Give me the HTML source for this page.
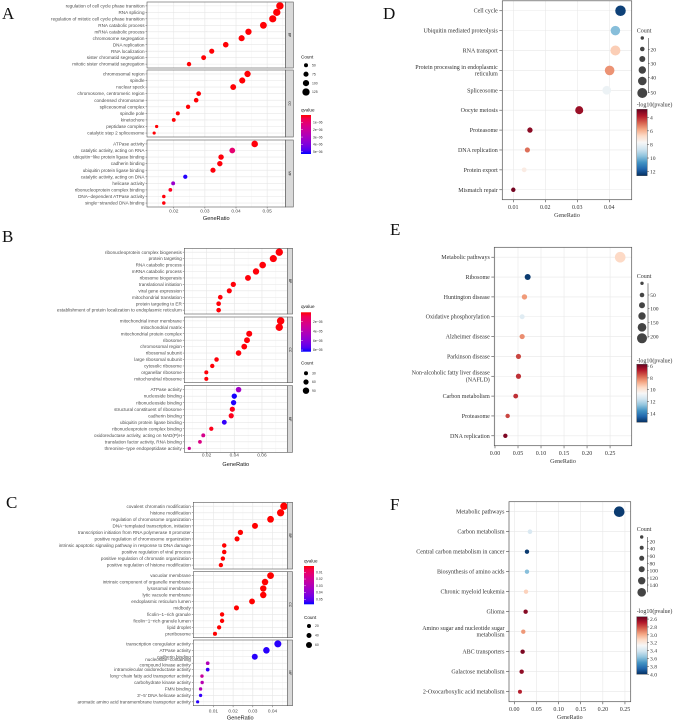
<!DOCTYPE html>
<html><head><meta charset="utf-8"><title>Enrichment dot plots</title>
<style>
html,body{margin:0;padding:0;background:#fff;}
svg{display:block;}
</style></head>
<body>
<svg id="chart" width="676" height="720" viewBox="0 0 676 720" xmlns="http://www.w3.org/2000/svg"></svg>
<script>
// ===== Panel A data =====
const aBpLabels = ["regulation of cell cycle phase transition","RNA splicing","regulation of mitotic cell cycle phase transition","RNA catabolic process","mRNA catabolic process","chromosome segregation","DNA replication","RNA localization","sister chromatid segregation","mitotic sister chromatid segregation"];
const aBpRatio = [0.0541,0.0531,0.0518,0.0488,0.044,0.0418,0.0367,0.0322,0.0296,0.0249];
const aBpCount = [127,125,122,115,103,98,86,76,70,59];
const aBpQ = [1e-9,1e-9,1e-9,1e-9,1e-9,1e-9,1e-9,1e-9,1e-9,1e-9];
const aCcLabels = ["chromosomal region","spindle","nuclear speck","chromosome, centromeric region","condensed chromosome","spliceosomal complex","spindle pole","kinetochore","peptidase complex","catalytic step 2 spliceosome"];
const aCcRatio = [0.0437,0.042,0.0391,0.028,0.0272,0.0246,0.0213,0.02,0.0145,0.0137];
const aCcCount = [103,99,92,66,64,58,50,47,34,32];
const aCcQ = [1e-9,1e-9,1e-9,1e-9,1e-9,1e-9,1e-9,1e-9,1e-9,1e-9];
const aMfLabels = ["ATPase activity","catalytic activity, acting on RNA","ubiquitin\u2212like protein ligase binding","cadherin binding","ubiquitin protein ligase binding","catalytic activity, acting on DNA","helicase activity","ribonucleoprotein complex binding","DNA\u2212dependent ATPase activity","single\u2212stranded DNA binding"];
const aMfRatio = [0.046,0.0388,0.0352,0.0348,0.0326,0.0237,0.0198,0.0189,0.0168,0.0168];
const aMfCount = [108,91,83,82,77,56,47,44,39,39];
const aMfQ = [1e-8,1.0e-6,1e-8,1e-8,1e-8,5.2e-6,3.4e-6,1e-7,1e-8,1e-8];
const aTicks = [0.02,0.03,0.04,0.05];
const aTickLabels = ["0.02","0.03","0.04","0.05"];
const aCountLegend = [50,75,100,125];
const aQLegend = [1e-6,2e-6,3e-6,4e-6,5e-6];
const aQLegendLabels = ["1e\u221206","2e\u221206","3e\u221206","4e\u221206","5e\u221206"];

// ===== Panel B data =====
const bBpLabels = ["ribonucleoprotein complex biogenesis","protein targeting","RNA catabolic process","mRNA catabolic process","ribosome biogenesis","translational initiation","viral gene expression","mitochondrial translation","protein targeting to ER","establishment of protein localization to endoplasmic reticulum"];
const bBpRatio = [0.0725,0.0682,0.0605,0.0557,0.0499,0.0393,0.0364,0.0299,0.0287,0.0287];
const bBpCount = [115,108,96,89,79,62,58,48,46,46];
const bBpQ = [1e-7,1e-7,1e-7,1e-7,1e-7,1e-7,1e-7,1e-7,1e-7,1e-7];
const bCcLabels = ["mitochondrial inner membrane","mitochondrial matrix","mitochondrial protein complex","ribosome","chromosomal region","ribosomal subunit","large ribosomal subunit","cytosolic ribosome","organellar ribosome","mitochondrial ribosome"];
const bCcRatio = [0.0735,0.0725,0.0508,0.0492,0.0472,0.0431,0.0272,0.0241,0.0198,0.0198];
const bCcCount = [117,115,81,78,75,69,43,38,31,31];
const bCcQ = [1e-7,1e-7,1e-7,1e-7,1e-7,1e-7,1e-7,1e-7,1e-7,1e-7];
const bMfLabels = ["ATPase activity","nucleoside binding","ribonucleoside binding","structural constituent of ribosome","cadherin binding","ubiquitin protein ligase binding","ribonucleoprotein complex binding","oxidoreductase activity, acting on NAD(P)H","translation factor activity, RNA binding","threonine\u2212type endopeptidase activity"];
const bMfRatio = [0.0431,0.04,0.0395,0.0386,0.0378,0.0328,0.0234,0.0176,0.0152,0.0075];
const bMfCount = [69,64,63,61,60,52,37,28,24,12];
const bMfQ = [5e-5,8.3e-5,8.2e-5,1e-6,1e-6,8.0e-5,1e-6,2.5e-5,2.2e-5,2.8e-5];
const bTicks = [0.02,0.04,0.06];
const bTickLabels = ["0.02","0.04","0.06"];
const bCountLegend = [30,60,90];
const bQLegend = [2e-5,4e-5,6e-5,8e-5];
const bQLegendLabels = ["2e\u221205","4e\u221205","6e\u221205","8e\u221205"];

// ===== Panel C data =====
const cBpLabels = ["covalent chromatin modification","histone modification","regulation of chromosome organization","DNA\u2212templated transcription, initiation","transcription initiation from RNA polymerase II promoter","positive regulation of chromosome organization","intrinsic apoptotic signaling pathway in response to DNA damage","positive regulation of viral process","positive regulation of chromatin organization","positive regulation of histone modification"];
const cBpRatio = [0.0458,0.0441,0.039,0.0311,0.0237,0.022,0.0155,0.0155,0.0148,0.0138];
const cBpCount = [88,85,75,60,46,42,30,30,28,26];
const cBpQ = [1e-5,1e-5,1e-5,1e-5,1e-5,1e-5,1e-5,1e-5,1e-5,1e-5];
const cCcLabels = ["vacuolar membrane","intrinsic component of organelle membrane","lysosomal membrane","lytic vacuole membrane","endoplasmic reticulum lumen","midbody","ficolin\u22121\u2212rich granule","ficolin\u22121\u2212rich granule lumen","lipid droplet","preribosome"];
const cCcRatio = [0.039,0.0362,0.0353,0.0353,0.0296,0.0217,0.0144,0.0144,0.0129,0.0108];
const cCcCount = [75,70,68,68,57,42,28,28,25,21];
const cCcQ = [1e-5,1e-5,1e-5,1e-5,1e-5,1e-5,1e-5,1e-5,1e-5,1e-5];
const cMfLabels = ["transcription coregulator activity","ATPase activity","cadherin binding","nucleoside\u2212containing\ncompound kinase activity","intramolecular oxidoreductase activity","long\u2212chain fatty acid transporter activity","carbohydrate kinase activity","FMN binding","3'\u22125' DNA helicase activity","aromatic amino acid transmembrane transporter activity"];
const cMfRatio = [0.0427,0.0369,0.031,0.0071,0.0071,0.0042,0.0043,0.0035,0.0035,0.002];
const cMfCount = [82,71,60,14,14,8,8,7,7,4];
const cMfQ = [0.056,0.056,0.056,0.03,0.055,0.022,0.028,0.03,0.055,0.056];
const cTicks = [0.01,0.02,0.03,0.04];
const cTickLabels = ["0.01","0.02","0.03","0.04"];
const cCountLegend = [20,40,60];
const cQLegend = [0.01,0.02,0.03,0.04,0.05];
const cQLegendLabels = ["0.01","0.02","0.03","0.04","0.05"];

// ===== Panel D data =====
const dLabels = ["Cell cycle","Ubiquitin mediated proteolysis","RNA transport","Protein processing in endoplasmic\nreticulum","Spliceosome","Oocyte meiosis","Proteasome","DNA replication","Protein export","Mismatch repair"];
const dRatio = [0.0435,0.0419,0.0419,0.0401,0.0392,0.0306,0.0152,0.0144,0.0134,0.01];
const dCount = [53,47,50,48,43,39,24,23,21,19];
const dLogP = [12.3,9.8,6.5,5.5,8.0,3.5,3.3,5.0,7.3,3.0];
const dTicks = [0.01,0.02,0.03,0.04];
const dTickLabels = ["0.01","0.02","0.03","0.04"];
const dColorTicks = [4,6,8,10,12];
const dSizeLegend = ["20","30","40","50"];

// ===== Panel E data =====
const eLabels = ["Metabolic pathways","Ribosome","Huntington disease","Oxidative phosphorylation","Alzheimer disease","Parkinson disease","Non-alcoholic fatty liver disease\n(NAFLD)","Carbon metabolism","Proteasome","DNA replication"];
const eRatio = [0.272,0.071,0.064,0.059,0.059,0.051,0.051,0.045,0.0275,0.0225];
const eCount = [217,89,72,61,67,67,67,56,44,44];
const eLogP = [9.6,15.3,8.5,11.2,8.3,7.3,7.0,7.0,7.3,6.0];
const eTicks = [0,0.05,0.1,0.15,0.2,0.25];
const eTickLabels = ["0.00","0.05","0.10","0.15","0.20","0.25"];
const eColorTicks = [6,8,10,12,14];
const eSizeLegend = ["50","100","150","200"];

// ===== Panel F data =====
const fLabels = ["Metabolic pathways","Carbon metabolism","Central carbon metabolism in cancer","Biosynthesis of amino acids","Chronic myeloid leukemia","Glioma","Amino sugar and nucleotide sugar\nmetabolism","ABC transporters","Galactose metabolism","2-Oxocarboxylic acid metabolism"];
const fRatio = [0.237,0.0354,0.0286,0.0286,0.0264,0.0256,0.0203,0.0188,0.0166,0.0128];
const fCount = [151,42,38,38,38,38,38,38,38,31];
const fLogP = [3.97,3.38,3.97,3.58,3.1,2.6,2.95,2.58,2.62,2.7];
const fTicks = [0,0.05,0.1,0.15,0.2,0.25];
const fTickLabels = ["0.00","0.05","0.10","0.15","0.20","0.25"];
const fColorTicks = [2.6,2.8,3.0,3.2,3.4,3.6,3.8,4.0];
const fColorTickLabels = ["2.6","2.8","3.0","3.2","3.4","3.6","3.8","4.0"];
const fSizeLegend = ["20","40","60","80","100","120","140"];

const NS = "http://www.w3.org/2000/svg";
const svg = document.getElementById('chart');
function mk(tag, attrs, parent) {
  const e = document.createElementNS(NS, tag);
  for (const k in attrs) e.setAttribute(k, attrs[k]);
  (parent || svg).appendChild(e);
  return e;
}
function txt(s, attrs, parent) {
  const e = mk('text', attrs, parent);
  e.textContent = s;
  return e;
}
const SANS = '"Liberation Sans", Arial, sans-serif';
const SERIF = '"Liberation Serif", "Times New Roman", serif';

function goColor(q, qmin, qmax) {
  let t = (q - qmin) / (qmax - qmin);
  t = Math.max(0, Math.min(1, t));
  const r = Math.round(255 * Math.sqrt(1 - t));
  const b = Math.round(255 * Math.sqrt(t));
  return 'rgb(' + r + ',0,' + b + ')';
}
const RDBU = ["#67001f","#b2182b","#d6604d","#f4a582","#fddbc7","#f7f7f7","#d1e5f0","#92c5de","#4393c3","#2166ac","#053061"];
function hex2rgb(h){return [parseInt(h.substr(1,2),16),parseInt(h.substr(3,2),16),parseInt(h.substr(5,2),16)];}
function rdbu(v, vmin, vmax) {
  let t = (v - vmin) / (vmax - vmin);
  t = Math.max(0, Math.min(1, t)) * (RDBU.length - 1);
  const i = Math.min(Math.floor(t), RDBU.length - 2), f = t - i;
  const a = hex2rgb(RDBU[i]), b = hex2rgb(RDBU[i + 1]);
  return 'rgb(' + a.map((x, j) => Math.round(x + (b[j] - x) * f)).join(',') + ')';
}

// panel letters
[["A",2,19],["B",2,242],["C",6,508],["D",383,19],["E",390,235],["F",390,510]].forEach(l => {
  const t = txt(l[0], {x:l[1], y:l[2], 'font-family':SERIF, 'font-size':17, fill:'#111'});
  
  
});

let gradId = 0;
function goPanel(p) {
  const g = mk('g', {});
  
  
  const sx = v => p.L + (v - p.xmin) / (p.xmax - p.xmin) * (p.R - p.L);
  p.facets.forEach(f => {
    const fg = mk('g', {}, g);
    
    
    const bg = mk('rect', {x:p.L, y:f.top, width:p.R - p.L, height:f.bot - f.top, fill:'#fff'}, fg);
    
    
    // minor vertical grid
    for (let i = 0; i < p.ticks.length + 1; i++) {
      const step = p.ticks[1] - p.ticks[0];
      const v = p.ticks[0] - step / 2 + i * step;
      if (v > p.xmin && v < p.xmax) {
        const gl = mk('line', {x1:sx(v), x2:sx(v), y1:f.top, y2:f.bot, stroke:'#f2f2f2', 'stroke-width':0.4}, fg);
        
        
      }
    }
    p.ticks.forEach(v => {
      const gl = mk('line', {x1:sx(v), x2:sx(v), y1:f.top, y2:f.bot, stroke:'#e6e6e6', 'stroke-width':0.6}, fg);
      
      
    });
    const n = f.labels.length;
    const step = (f.bot - f.top) / (n + 0.2);
    f.labels.forEach((lab, i) => {
      const y = f.top + (0.6 + i) * step;
      const hl = mk('line', {x1:p.L, x2:p.R, y1:y, y2:y, stroke:'#e6e6e6', 'stroke-width':0.6}, fg);
      
      
      const tk = mk('line', {x1:p.L - 1.5, x2:p.L, y1:y, y2:y, stroke:'#333', 'stroke-width':0.4}, fg);
      
      
      const parts = lab.split('\n');
      parts.forEach((s, j) => {
        const dy = parts.length > 1 ? (j === 0 ? -2.2 : 3.2) : 1.6;
        const t = txt(s, {x:p.L - 2.5, y:y + dy, 'text-anchor':'end', 'font-family':SANS, 'font-size':4.6, fill:'#4d4d4d'}, fg);
        
        
      });
    });
    f.labels.forEach((lab, i) => {
      const y = f.top + (0.6 + i) * step;
      const c = mk('circle', {cx:sx(f.ratio[i]), cy:y, r:p.r0 + p.k * f.count[i], fill:goColor(f.q[i], p.qmin, p.qmax)}, fg);
      
      
    });
    const bd = mk('rect', {x:p.L, y:f.top, width:p.R - p.L, height:f.bot - f.top, fill:'none', stroke:'#555', 'stroke-width':0.6}, fg);
    
    
    const st = mk('rect', {x:p.R, y:f.top, width:p.S - p.R, height:f.bot - f.top, fill:'#d9d9d9', stroke:'#555', 'stroke-width':0.6}, fg);
    
    
    const cx = (p.R + p.S) / 2, cy = (f.top + f.bot) / 2;
    const stt = txt(f.name, {x:cx, y:cy, 'text-anchor':'middle', 'dominant-baseline':'central', transform:'rotate(90 ' + cx + ' ' + cy + ')', 'font-family':SANS, 'font-size':3.2, fill:'#222'}, fg);
    
    
  });
  const lastBot = p.facets[p.facets.length - 1].bot;
  p.ticks.forEach((v, i) => {
    const tk = mk('line', {x1:sx(v), x2:sx(v), y1:lastBot, y2:lastBot + 1.5, stroke:'#333', 'stroke-width':0.4}, g);
    
    
    const t = txt(p.tickLabels[i], {x:sx(v), y:p.tickY, 'text-anchor':'middle', 'font-family':SANS, 'font-size':4.8, fill:'#4d4d4d'}, g);
    
    
  });
  const xt = txt('GeneRatio', {x:(p.L + p.R) / 2, y:p.titleY, 'text-anchor':'middle', 'font-family':SANS, 'font-size':5.6, fill:'#111'}, g);
  
  
  // count legend
  const cl = mk('g', {}, g);
  
  
  const ct = txt('Count', {x:p.legX, y:p.countTitleY, 'font-family':SANS, 'font-size':4.6, fill:'#111'}, cl);
  
  
  p.countLegend.forEach((cv, i) => {
    const y = p.countY0 + i * p.countStep;
    const c = mk('circle', {cx:p.legX + 5, cy:y, r:p.r0 + p.k * cv, fill:'#000'}, cl);
    
    
    const t = txt(String(cv), {x:p.legX + 11, y:y + 1.2, 'font-family':SANS, 'font-size':3.4, fill:'#333'}, cl);
    
    
  });
  // qvalue colorbar
  const ql = mk('g', {}, g);
  
  
  const qt = txt('qvalue', {x:p.legX, y:p.qTitleY, 'font-family':SANS, 'font-size':4.6, fill:'#111'}, ql);
  
  
  const id = 'gg' + (gradId++);
  const defs = mk('defs', {}, ql);
  const lg = mk('linearGradient', {id:id, x1:0, y1:0, x2:0, y2:1}, defs);
  for (let i = 0; i <= 10; i++) {
    mk('stop', {offset:(i * 10) + '%', 'stop-color':goColor(p.qmin + (p.qmax - p.qmin) * i / 10, p.qmin, p.qmax)}, lg);
  }
  const bar = mk('rect', {x:p.legX, y:p.barT, width:10, height:p.barB - p.barT, fill:'url(#' + id + ')'}, ql);
  
  
  p.qLegend.forEach((qv, i) => {
    const y = p.barT + (qv - p.qmin) / (p.qmax - p.qmin) * (p.barB - p.barT);
    const tk = mk('line', {x1:p.legX, x2:p.legX + 2, y1:y, y2:y, stroke:'#fff', 'stroke-width':0.4}, ql);
    
    
    const t = txt(p.qLegendLabels[i], {x:p.legX + 12, y:y + 1.2, 'font-family':SANS, 'font-size':3.4, fill:'#333'}, ql);
    
    
  });
}

goPanel({id:'a', L:147, R:285.5, S:293.3, xmin:0.0114, xmax:0.0559, ticks:aTicks, tickLabels:aTickLabels, tickY:212.3, titleY:220,
  r0:0.9, k:0.022, qmin:0, qmax:5.3e-6,
  facets:[{name:'BP', top:2, bot:68, labels:aBpLabels, ratio:aBpRatio, count:aBpCount, q:aBpQ},
          {name:'CC', top:70, bot:137, labels:aCcLabels, ratio:aCcRatio, count:aCcCount, q:aCcQ},
          {name:'MF', top:140, bot:207, labels:aMfLabels, ratio:aMfRatio, count:aMfCount, q:aMfQ}],
  legX:301, countTitleY:58.5, countY0:65.3, countStep:8.9, countLegend:aCountLegend,
  qTitleY:111.5, barT:115, barB:154, qLegend:aQLegend, qLegendLabels:aQLegendLabels});

goPanel({id:'b', L:184.3, R:287.3, S:292.5, xmin:0.0039, xmax:0.0783, ticks:bTicks, tickLabels:bTickLabels, tickY:456.6, titleY:466,
  r0:1.4, k:0.02, qmin:0, qmax:8.35e-5,
  facets:[{name:'BP', top:248.3, bot:314, labels:bBpLabels, ratio:bBpRatio, count:bBpCount, q:bBpQ},
          {name:'CC', top:317, bot:382.7, labels:bCcLabels, ratio:bCcRatio, count:bCcCount, q:bCcQ},
          {name:'MF', top:385.7, bot:452.3, labels:bMfLabels, ratio:bMfRatio, count:bMfCount, q:bMfQ}],
  legX:301, countTitleY:364.5, countY0:373.3, countStep:8.7, countLegend:bCountLegend,
  qTitleY:308, barT:312.3, barB:351.7, qLegend:bQLegend, qLegendLabels:bQLegendLabels});

goPanel({id:'c', L:193.3, R:287.3, S:292.5, xmin:-0.0002, xmax:0.0475, ticks:cTicks, tickLabels:cTickLabels, tickY:712.5, titleY:719.5,
  r0:1.5, k:0.025, qmin:0.0007, qmax:0.0574,
  facets:[{name:'BP', top:502.3, bot:569, labels:cBpLabels, ratio:cBpRatio, count:cBpCount, q:cBpQ},
          {name:'CC', top:571.7, bot:637.7, labels:cCcLabels, ratio:cCcRatio, count:cCcCount, q:cCcQ},
          {name:'MF', top:640, bot:705.7, labels:cMfLabels, ratio:cMfRatio, count:cMfCount, q:cMfQ}],
  legX:304, countTitleY:619, countY0:626, countStep:9.5, countLegend:cCountLegend,
  qTitleY:562.5, barT:566, barB:604.3, qLegend:cQLegend, qLegendLabels:cQLegendLabels});

function keggPanel(p) {
  const g = mk('g', {});
  
  
  const sx = v => p.L + (v - p.xmin) / (p.xmax - p.xmin) * (p.R - p.L);
  const n = p.labels.length;
  const step = (p.B - p.T) / n;
  const bg = mk('rect', {x:p.L, y:p.T, width:p.R - p.L, height:p.B - p.T, fill:'#fff'}, g);
  
  
  p.ticks.forEach((v, i) => {
    const gl = mk('line', {x1:sx(v), x2:sx(v), y1:p.T, y2:p.B, stroke:'#e8e8e8', 'stroke-width':0.6}, g);
    
    
    const tk = mk('line', {x1:sx(v), x2:sx(v), y1:p.B, y2:p.B + 2.5, stroke:'#444', 'stroke-width':0.6}, g);
    
    
    const t = txt(p.tickLabels[i], {x:sx(v), y:p.tickY, 'text-anchor':'middle', 'font-family':SERIF, 'font-size':6, fill:'#333'}, g);
    
    
  });
  p.labels.forEach((lab, i) => {
    const y = p.T + (i + 0.5) * step;
    const hl = mk('line', {x1:p.L, x2:p.R, y1:y, y2:y, stroke:'#e8e8e8', 'stroke-width':0.6}, g);
    
    
    const tk = mk('line', {x1:p.L - 3, x2:p.L, y1:y, y2:y, stroke:'#444', 'stroke-width':0.6}, g);
    
    
    const parts = lab.split('\n');
    parts.forEach((s, j) => {
      const dy = parts.length > 1 ? (j === 0 ? -1.6 : 5) : 2;
      const t = txt(s, {x:p.L - 4.5, y:y + dy, 'text-anchor':'end', 'font-family':SERIF, 'font-size':6, fill:'#333'}, g);
      
      
    });
  });
  p.labels.forEach((lab, i) => {
    const y = p.T + (i + 0.5) * step;
    const c = mk('circle', {cx:sx(p.ratio[i]), cy:y, r:p.r0 + p.k * p.count[i], fill:rdbu(p.logp[i], p.cmin, p.cmax)}, g);
    
    
  });
  const bd = mk('rect', {x:p.L, y:p.T, width:p.R - p.L, height:p.B - p.T, fill:'none', stroke:'#555', 'stroke-width':0.7}, g);
  
  
  const xt = txt('GeneRatio', {x:(p.L + p.R) / 2, y:p.titleY, 'text-anchor':'middle', 'font-family':SERIF, 'font-size':6, fill:'#333'}, g);
  
  
  // size legend
  const sl = mk('g', {}, g);
  
  
  const st = txt('Count', {x:636.7, y:p.sTitleY, 'font-family':SERIF, 'font-size':6, fill:'#333'}, sl);
  
  
  p.sCircY.forEach((y, i) => {
    const c = mk('circle', {cx:p.sCx, cy:y, r:p.sCircR[i], fill:'#444'}, sl);
    
    
  });
  const br = mk('line', {x1:p.sBx, x2:p.sBx, y1:p.sCircY[0], y2:p.sCircY[p.sCircY.length - 1], stroke:'#444', 'stroke-width':0.6}, sl);
  
  
  p.sLabels.forEach((s, i) => {
    const y = p.sLabY[i];
    const tk = mk('line', {x1:p.sBx, x2:p.sBx + 1.5, y1:y, y2:y, stroke:'#444', 'stroke-width':0.5}, sl);
    
    
    const t = txt(s, {x:p.sBx + 2.2, y:y + 2, 'font-family':SERIF, 'font-size':5.6, fill:'#333'}, sl);
    
    
  });
  // color legend
  const cl = mk('g', {}, g);
  
  
  const ct = txt('-log10(pvalue)', {x:636.7, y:p.cTitleY, 'font-family':SERIF, 'font-size':6, fill:'#333'}, cl);
  
  
  const id = 'rg' + (gradId++);
  const defs = mk('defs', {}, cl);
  const lg = mk('linearGradient', {id:id, x1:0, y1:0, x2:0, y2:1}, defs);
  for (let i = 0; i <= 20; i++) {
    mk('stop', {offset:(i * 5) + '%', 'stop-color':rdbu(p.cmin + (p.cmax - p.cmin) * i / 20, p.cmin, p.cmax)}, lg);
  }
  const bar = mk('rect', {x:636.7, y:p.barT, width:10.6, height:p.barB - p.barT, fill:'url(#' + id + ')', stroke:'#444', 'stroke-width':0.4}, cl);
  
  
  p.cTicks.forEach((v, i) => {
    const y = p.barT + (v - p.cmin) / (p.cmax - p.cmin) * (p.barB - p.barT);
    const tk = mk('line', {x1:647.3, x2:649, y1:y, y2:y, stroke:'#444', 'stroke-width':0.5}, cl);
    
    
    const t = txt(p.cTickLabels[i], {x:650, y:y + 2, 'font-family':SERIF, 'font-size':5.6, fill:'#333'}, cl);
    
    
  });
}

keggPanel({id:'d', L:502.3, R:631.7, T:0.8, B:199.7, xmin:0.00656, xmax:0.047, ticks:dTicks, tickLabels:dTickLabels, tickY:209, titleY:217,
  labels:dLabels, ratio:dRatio, count:dCount, logp:dLogP, r0:0.5, k:0.09, cmin:2.83, cmax:12.6,
  sTitleY:32.5, sCx:642.3, sBx:648.3, sCircY:[38,49,59,70,81,93], sCircR:[1.7,2.3,3,3.7,4.3,5], sLabels:dSizeLegend, sLabY:[49.3,63.3,77.7,92.3],
  cTitleY:106.5, barT:109.3, barB:175.7, cTicks:dColorTicks, cTickLabels:dColorTicks.map(String)});

keggPanel({id:'e', L:494.3, R:631.7, T:247.3, B:445.7, xmin:-0.0015, xmax:0.297, ticks:eTicks, tickLabels:eTickLabels, tickY:455, titleY:463,
  labels:eLabels, ratio:eRatio, count:eCount, logp:eLogP, r0:1.4, k:0.018, cmin:5.7, cmax:15.5,
  sTitleY:278, sCx:642, sBx:648, sCircY:[283.3,295,305.3,316,327.3,338.3], sCircR:[1.7,2.3,3,3.7,4.3,5], sLabels:eSizeLegend, sLabY:[295,308.7,322.3,336.3],
  cTitleY:362.5, barT:364.3, barB:422.3, cTicks:eColorTicks, cTickLabels:eColorTicks.map(String)});

keggPanel({id:'f', L:509, R:630.7, T:501.7, B:701.7, xmin:-0.012, xmax:0.263, ticks:fTicks, tickLabels:fTickLabels, tickY:711, titleY:719,
  labels:fLabels, ratio:fRatio, count:fCount, logp:fLogP, r0:1.15, k:0.0275, cmin:2.54, cmax:4.0,
  sTitleY:531, sCx:641.7, sBx:647.3, sCircY:[537,547.7,558.3,569.3,580.7,592.3], sCircR:[1.7,2,2.5,3,3.7,4.3], sLabels:fSizeLegend, sLabY:[541.3,548.7,556,563.3,570.7,578,585],
  cTitleY:613, barT:616.7, barB:674.3, cTicks:fColorTicks, cTickLabels:fColorTickLabels});
</script>
</body></html>
